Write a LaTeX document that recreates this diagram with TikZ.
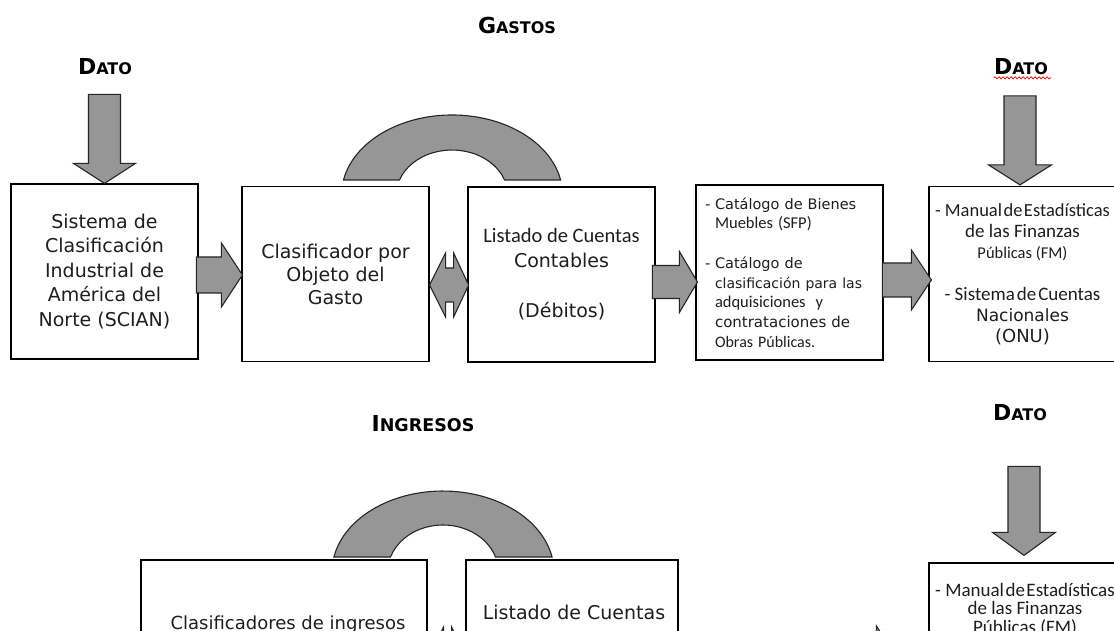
\documentclass[tikz,border=0pt]{standalone}
\usepackage{fontspec}
\setmainfont{DejaVu Sans}
\newfontfamily\cbfont{Carlito}
\newfontfamily\dvfont{DejaVu Sans}
\usetikzlibrary{calc,decorations.pathmorphing}
\definecolor{arrgray}{RGB}{150,150,150}
\definecolor{txtcol}{RGB}{30,30,30}
\newcommand{\ttl}[3][16]{{\fontsize{22}{22}\selectfont #2}{\fontsize{#1}{#1}\selectfont #3}}
\newcommand{\lstdash}{\makebox[10pt][l]{-}}
% right block arrow: tip, shaft length, head length, shaft half width, head half width
\newcommand{\RArr}[5]{\draw[blk] (#1) -- ++(-#3,#5) -- ++(0,#4-#5) -- ++(-#2,0) -- ++(0,-2*#4) -- ++(#2,0) -- ++(0,#4-#5) -- cycle;}
% down block arrow: tip, shaft length, head length, shaft half width, head half width
\newcommand{\DArr}[5]{\draw[blk] (#1) -- ++(-#5,#3) -- ++(#5-#4,0) -- ++(0,#2) -- ++(2*#4,0) -- ++(0,-#2) -- ++(#5-#4,0) -- cycle;}
% double block arrow from left tip
\newcommand{\DblArr}[1]{\draw[blk] (#1) -- ++(16,32) -- ++(0,-15) -- ++(8,0) -- ++(0,15) -- ++(15,-32) -- ++(-15,-32) -- ++(0,15) -- ++(-8,0) -- ++(0,-15) -- cycle;}
\tikzset{
  box/.style={draw=black, line width=1.2pt, minimum width=187pt, minimum height=175pt,
    inner sep=0pt, align=center, text=txtcol},
  blk/.style={draw=black!85, line width=1.1pt, fill=arrgray, line join=miter},
  title/.style={font=\bfseries, inner sep=0pt, text=black},
  lbl/.style={inner sep=0pt, text=txtcol},
}
\begin{document}
\begin{tikzpicture}[x=1pt,y=1pt]
\useasboundingbox (0,0) rectangle (1114,630);
\clip (0,0) rectangle (1114,630);
\fill[white] (0,0) rectangle (1114,630);

% ---------- titles ----------
\node[title] (gastos) at (517,605) {\ttl{G}{ASTOS}};
\node[title] (dato1) at (105,563.5) {\ttl{D}{ATO}};
\node[title] (dato2) at (1021,563.5) {\ttl{D}{ATO}};
\node[title] (ingresos) at (423,206.5) {\ttl[17.5]{I}{NGRESOS}};
\node[title] (dato3) at (1020,217.5) {\ttl{D}{ATO}};
\draw[red, line width=0.7pt, decorate, decoration={snake, amplitude=1.1pt, segment length=4pt}]
  ($(dato2.south west)+(0,-3)$) -- ($(dato2.south east)+(3,-3)$);

% ---------- upper row ----------
\node[box, font=\fontsize{19}{24.5}\selectfont] (b1) at (104.5,358.5)
  {Sistema de\\Clasificación\\Industrial de\\América del\\Norte (SCIAN)};
\node[box, font=\fontsize{19}{23}\selectfont] (b2) at (335.5,356)
  {Clasificador por\\Objeto del\\Gasto};
\node[box, font=\fontsize{19}{25}\selectfont] (b3) at (561.5,355.5)
  {{\cbfont\fontsize{20.5}{25}\selectfont Listado de Cuentas}\\Contables\\[25pt](Débitos)};
\node[box, align=left, text width=169pt, inner xsep=9pt, font=\fontsize{15}{19.7}\selectfont] (b4) at (789.5,357.5)
  {\lstdash{\dvfont\fontsize{14.5}{19.7}\selectfont Catálogo de Bienes}\\
   \hspace*{10pt}{\cbfont\fontsize{16.5}{19.7}\selectfont Muebles (SFP)}\\[19.7pt]
   \lstdash{\dvfont\fontsize{14.5}{19.7}\selectfont Catálogo de}\\
   \hspace*{10pt}{\dvfont\fontsize{14}{19.7}\selectfont clasificación para las}\\
   \hspace*{10pt}{\cbfont\fontsize{16.5}{19.7}\selectfont adquisiciones \ y}\\
   \hspace*{10pt}{\dvfont\fontsize{15}{19.7}\selectfont contrataciones de}\\
   \hspace*{10pt}{\cbfont\fontsize{16}{19.7}\selectfont Obras Públicas.}};
\node[box, font=\cbfont\fontsize{19}{21}\selectfont] (b5) at (1022.5,356)
  {{\fontsize{18.5}{21}\selectfont - \spaceskip=1.5pt Manual de Estadísticas}\\
   de las Finanzas\\
   {\fontsize{16.5}{21}\selectfont Públicas (FM)}\\[21pt]
   {- \spaceskip=2pt Sistema de Cuentas}\\
   {\dvfont\fontsize{17}{21}\selectfont Nacionales}\\
   {\dvfont\fontsize{18}{21}\selectfont (ONU)}};

% arrows upper row
\DArr{b1.north}{69}{20}{16}{31}
\DArr{$(b5.north)+(-2.5,1)$}{69}{20}{16}{31.5}
\RArr{$(b2.west)+(1,-1)$}{25}{21}{18}{32}
\DblArr{$(b2.east)+(0,-11)$}
\RArr{$(b4.west)+(2,-9.5)$}{27}{18}{16.5}{30.5}
\RArr{$(b5.west)+(3,-6)$}{29}{20}{17}{30}
% block arc between b2 and b3
\draw[blk] (343.5,450) arc[start angle=169.2, end angle=10.8, x radius=110.5pt, y radius=80pt]
  -- (504.5,450) arc[start angle=19.5, end angle=160.5, x radius=55.7pt, y radius=45pt] -- cycle;

% ---------- lower row ----------
\node[box, minimum width=286pt] (c1) at (284,-17.5) {};
\node[box, minimum width=212pt] (c2) at (572,-17.5) {};
\node[box] (c3) at (1022.5,-20.5) {};
\node[lbl, anchor=base, font=\fontsize{18}{22}\selectfont] (c1t) at (288,0.5) {Clasificadores de ingresos};
\node[lbl, anchor=base, font=\fontsize{19}{23}\selectfont] (c2t) at (574,11) {Listado de Cuentas};
\node[lbl, anchor=north, align=center, font=\cbfont\fontsize{19}{18.5}\selectfont] (c3t) at (1025,47)
  {{- \spaceskip=1.5pt Manual de Estadísticas}\\de las Finanzas\\Públicas (FM)};

\DArr{$(c3.north)+(1.5,7)$}{66}{23}{16}{31.5}
\DblArr{$(c1.east)+(0,-11.5)$}
\RArr{$(c3.west)+(-32,-5.5)$}{27}{20}{17}{30}
\draw[blk] (333.9,73) arc[start angle=169.3, end angle=10.7, x radius=111pt, y radius=81pt]
  -- (495.5,73) arc[start angle=18.6, end angle=161.4, x radius=55.4pt, y radius=47pt] -- cycle;
\end{tikzpicture}
\end{document}
